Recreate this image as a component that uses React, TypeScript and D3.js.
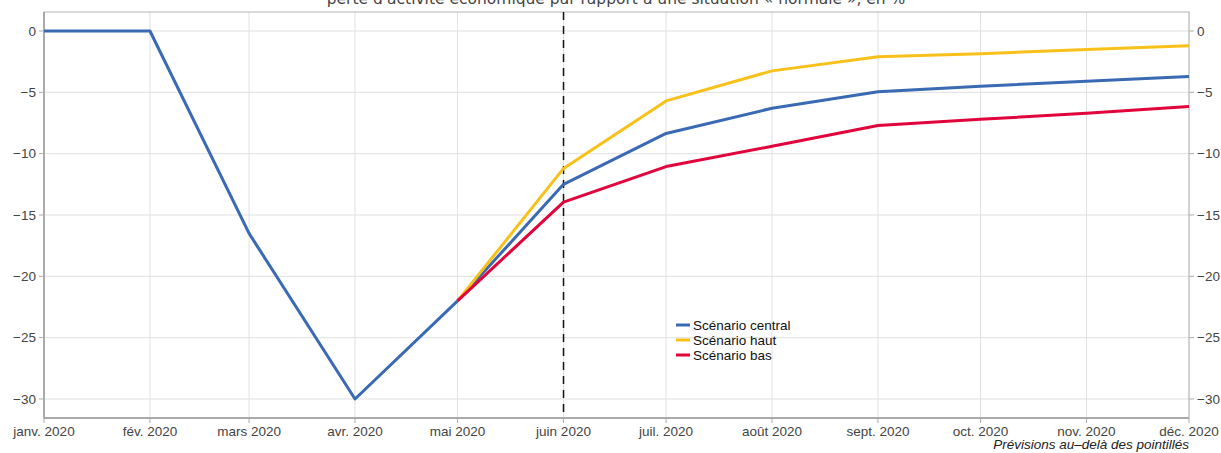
import React from "react";
import * as d3 from "d3";

const months = ["janv. 2020","fév. 2020","mars 2020","avr. 2020","mai 2020","juin 2020","juil. 2020","août 2020","sept. 2020","oct. 2020","nov. 2020","déc. 2020"];
const central = [0, 0, -16.5, -30, -22, -12.5, -8.35, -6.3, -4.95, -4.5, -4.1, -3.7];
const haut: (number | null)[] = [null, null, null, null, -22, -11.2, -5.7, -3.25, -2.1, -1.85, -1.5, -1.2];
const bas: (number | null)[] = [null, null, null, null, -22, -13.95, -11.05, -9.4, -7.7, -7.2, -6.7, -6.15];
const yTicks = [0, -5, -10, -15, -20, -25, -30];
const title = "perte d'activité économique par rapport à une situation « normale », en %";
const note = "Prévisions au–delà des pointillés";
const seriesNames = ["Scénario central", "Scénario haut", "Scénario bas"];
const colors = ["#3a6ab4", "#f8c11a", "#e1053c"];

export default function App() {
  const W = 1221, H = 453;
  const L = 44, R = 1189, T = 12, B = 418;
  const dates = months.map((_, i) => new Date(2020, i, 1));
  const x = d3.scaleTime().domain([dates[0], dates[11]]).range([L, R]);
  const y = d3.scaleLinear().domain([1.55, -31.55]).range([T, B]);
  const line = d3.line<[Date, number | null]>()
    .defined(d => d[1] !== null)
    .x(d => x(d[0]))
    .y(d => y(d[1] as number));
  const series = [central, haut, bas];
  const font = "'Liberation Sans', Arial, sans-serif";
  const minus = (v: number) => (v < 0 ? "\u2212" + Math.abs(v) : String(v));
  return (
    <svg width={W} height={H} style={{ position: "absolute", left: 0, top: 0 }} fontFamily={font}>
      <rect x={0} y={0} width={W} height={H} fill="#fff" />
      {dates.map((d, i) => (
        <line key={"vg" + i} x1={x(d)} x2={x(d)} y1={T} y2={B} stroke="#e0e0e0" strokeWidth={1} />
      ))}
      {yTicks.map(t => (
        <line key={"hg" + t} x1={L} x2={R} y1={y(t)} y2={y(t)} stroke="#e0e0e0" strokeWidth={1} />
      ))}
      <rect x={L} y={T} width={R - L} height={B - T} fill="none" stroke="#b5b5b5" strokeWidth={1} />
      <line x1={L} x2={L} y1={T} y2={B} stroke="#aaa" strokeWidth={2} />
      <line x1={L} x2={R} y1={B} y2={B} stroke="#aaa" strokeWidth={2} />
      {yTicks.map(t => (
        <g key={"yt" + t}>
          <line x1={L - 5} x2={L} y1={y(t)} y2={y(t)} stroke="#aaa" />
          <line x1={R} x2={R + 5} y1={y(t)} y2={y(t)} stroke="#aaa" />
          <text x={L - 8} y={y(t)} dy="0.35em" textAnchor="end" fontSize={13.5} fill="#444">{minus(t)}</text>
          <text x={R + 8} y={y(t)} dy="0.35em" textAnchor="start" fontSize={13.5} fill="#444">{minus(t)}</text>
        </g>
      ))}
      {dates.map((d, i) => (
        <g key={"xt" + i}>
          <line x1={x(d)} x2={x(d)} y1={B} y2={B + 5} stroke="#aaa" />
          <text x={x(d)} y={B + 18} textAnchor="middle" fontSize={13.5} fill="#444">{months[i]}</text>
        </g>
      ))}
      <line x1={x(dates[5])} x2={x(dates[5])} y1={T} y2={B} stroke="#111" strokeWidth={1.5} strokeDasharray="8,6" />
      {series.map((s, k) => (
        <path key={"s" + k} d={line(dates.map((d, i) => [d, s[i]] as [Date, number | null])) || ""}
          fill="none" stroke={colors[k]} strokeWidth={3} strokeLinejoin="round" />
      ))}
      {seriesNames.map((n, k) => (
        <g key={"lg" + k} transform={`translate(676, ${325 + k * 15})`}>
          <line x1={0} x2={14} y1={0} y2={0} stroke={colors[k]} strokeWidth={3} />
          <text x={17} y={0} dy="0.35em" fontSize={13.5} fill="#111">{n}</text>
        </g>
      ))}
      <text x={616} y={4} textAnchor="middle" fontSize={15.5} fill="#444" fontFamily="'DejaVu Sans', sans-serif">{title}</text>
      <text x={1189} y={449} textAnchor="end" fontSize={13.5} fontStyle="italic" fill="#222">{note}</text>
    </svg>
  );
}
